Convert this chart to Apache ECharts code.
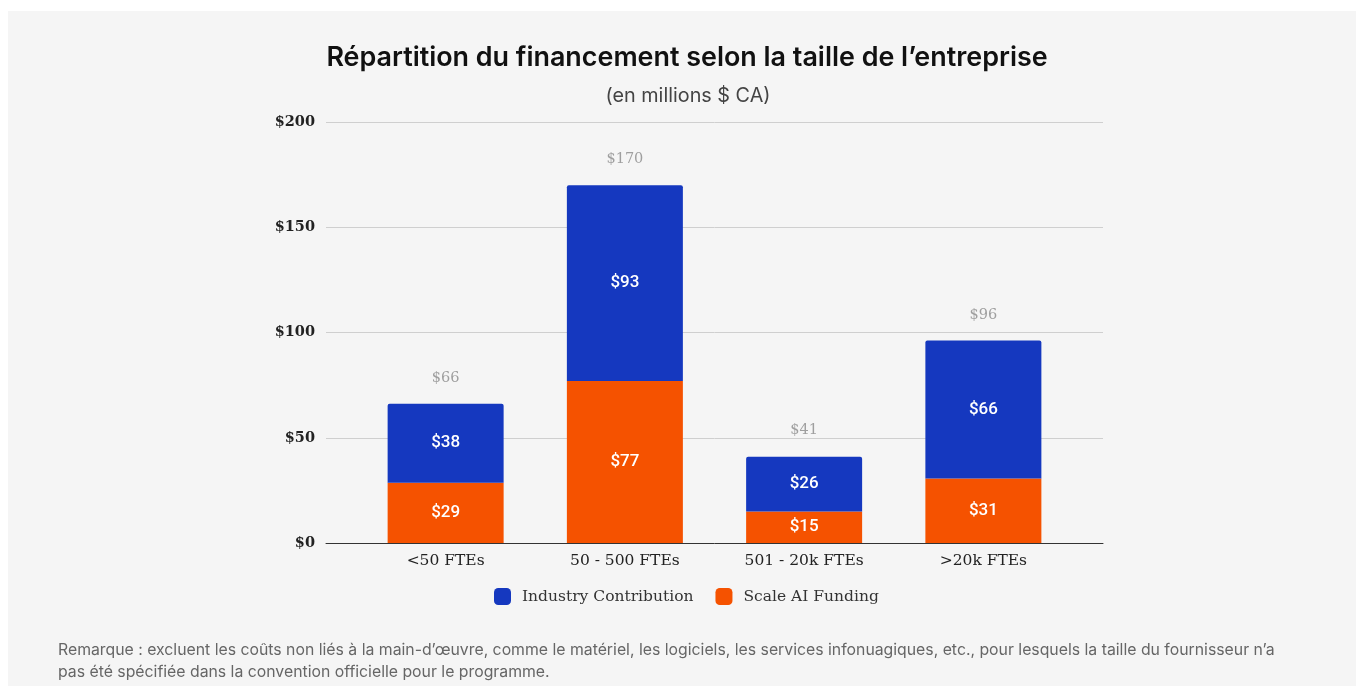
<html>
<head>
<meta charset="UTF-8">
<script src="https://cdnjs.cloudflare.com/ajax/libs/echarts/6.0.0/echarts.min.js"></script>
<style>
  body { margin: 0; background: #fff; }
  #panel { position: absolute; left: 8px; top: 11px; width: 1348px; height: 675px; background: #f5f5f5; }
  #chart { position: absolute; left: 0; top: 0; width: 1356px; height: 686px; }
</style>
</head>
<body>
<div id="panel"></div>
<div id="chart"></div>
<script>
// données
var categories = ['<50 FTEs', '50 - 500 FTEs', '501 - 20k FTEs', '>20k FTEs'];
var scaleFunding = [28.6, 77, 15, 30.6];
var industryContribution = [37.6, 93, 26, 65.6];
var totals = [66, 170, 41, 96];
var yTicks = [0, 50, 100, 150, 200];

var BLUE = '#1538bf';
var ORANGE = '#f55200';
var serif = 'DejaVu Serif';

var chart = echarts.init(document.getElementById('chart'));

var option = {
  title: [
    {
      text: 'Répartition du financement selon la taille de l’entreprise',
      left: 682, top: 39, textAlign: 'center',
      textStyle: { fontFamily: 'Inter', fontWeight: 600, fontSize: 26.9, color: '#111' }
    },
    {
      text: '(en millions $ CA)',
      left: 683, top: 81, textAlign: 'center',
      textStyle: { fontFamily: 'Inter', fontWeight: 400, fontSize: 19.8, color: '#444' }
    },
    {
      text: 'Remarque : excluent les coûts non liés à la main-d’œuvre, comme le matériel, les logiciels, les services infonuagiques, etc., pour lesquels la taille du fournisseur n’a\npas été spécifiée dans la convention officielle pour le programme.',
      left: 53, top: 634,
      textStyle: { fontFamily: 'Inter', fontWeight: 400, fontSize: 15.8, color: '#666', lineHeight: 22 }
    }
  ],
  legend: {
    data: ['Industry Contribution', 'Scale AI Funding'],
    bottom: 76, left: 489,
    icon: 'roundRect',
    itemWidth: 17, itemHeight: 17, itemGap: 22,
    textStyle: { fontFamily: serif, fontSize: 15.5, color: '#333', padding: [0, 0, 0, 6] }
  },
  grid: [
    { left: 326, right: 253, top: 122, bottom: 143 },
    { left: 356, right: 283, top: 122, bottom: 143 }
  ],
  xAxis: [
    {
      type: 'category', gridIndex: 0, data: [''],
      axisLine: { lineStyle: { color: '#333', width: 1 } },
      axisTick: { show: false }, axisLabel: { show: false }
    },
    {
      type: 'category', gridIndex: 1, data: categories,
      axisLine: { show: false }, axisTick: { show: false },
      axisLabel: { fontFamily: serif, fontSize: 15.5, color: '#222', margin: 10 }
    }
  ],
  yAxis: [
    {
      type: 'value', gridIndex: 0, min: yTicks[0], max: yTicks[yTicks.length - 1], interval: 50,
      axisLine: { show: false }, axisTick: { show: false },
      axisLabel: { formatter: function (v) { return '$' + v; }, fontFamily: serif, fontWeight: 'bold', fontSize: 14.5, color: '#222', margin: 11 },
      splitLine: { lineStyle: { color: '#cfcfcf', width: 1 } }
    },
    {
      type: 'value', gridIndex: 1, min: yTicks[0], max: yTicks[yTicks.length - 1], interval: 50,
      show: false, splitLine: { show: false }
    }
  ],
  series: [
    {
      name: 'Scale AI Funding', type: 'bar', stack: 'total',
      xAxisIndex: 1, yAxisIndex: 1, barWidth: 116,
      data: scaleFunding,
      itemStyle: { color: ORANGE },
      label: {
        show: true, position: 'inside', color: '#fff', fontFamily: 'Roboto', fontWeight: 500, fontSize: 17,
        formatter: function (p) { return '$' + Math.round(p.value); }
      }
    },
    {
      name: 'Industry Contribution', type: 'bar', stack: 'total',
      xAxisIndex: 1, yAxisIndex: 1, barWidth: 116,
      data: industryContribution,
      itemStyle: { color: BLUE, borderRadius: [2, 2, 0, 0] },
      label: {
        show: true, position: 'inside', color: '#fff', fontFamily: 'Roboto', fontWeight: 500, fontSize: 17,
        formatter: function (p) { return '$' + Math.round(p.value); }
      }
    },
    {
      name: 'Total', type: 'scatter',
      xAxisIndex: 1, yAxisIndex: 1,
      data: totals, symbolSize: 1,
      itemStyle: { color: 'rgba(0,0,0,0)' },
      label: {
        show: true, position: 'top', distance: 18,
        fontFamily: serif, fontSize: 14.5, color: '#8a8a8a',
        formatter: function (p) { return '$' + p.value; }
      },
      silent: true
    }
  ]
};

chart.setOption(option);
</script>
</body>
</html>
